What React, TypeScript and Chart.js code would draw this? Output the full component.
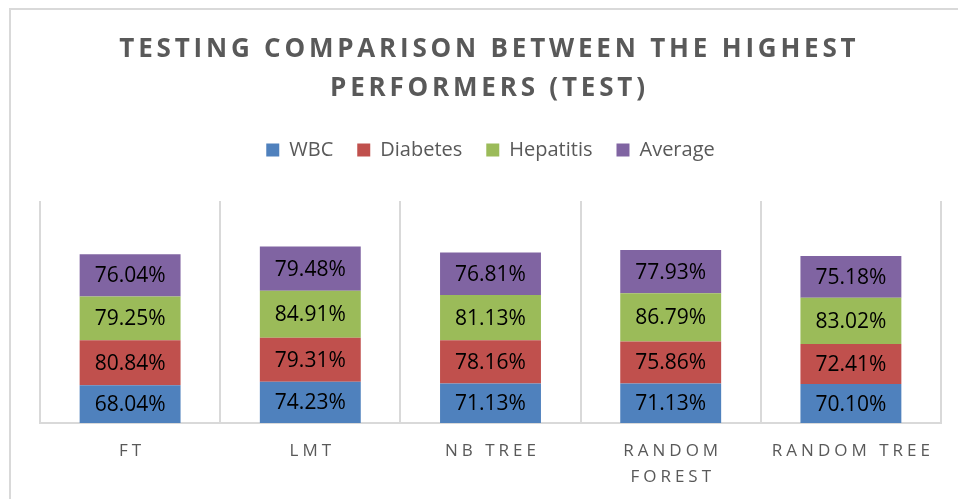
import React, { useEffect, useRef } from "react";
import { Chart, registerables } from "chart.js";

Chart.register(...registerables);

const categories: (string | string[])[] = ["FT", "LMT", "NB TREE", ["RANDOM", "FOREST"], "RANDOM TREE"];
const seriesNames = ["WBC", "Diabetes", "Hepatitis", "Average"];
const wbc = [68.04, 74.23, 71.13, 71.13, 70.1];
const diabetes = [80.84, 79.31, 78.16, 75.86, 72.41];
const hepatitis = [79.25, 84.91, 81.13, 86.79, 83.02];
const average = [76.04, 79.48, 76.81, 77.93, 75.18];
const seriesColors = ["#4F81BD", "#C0504D", "#9BBB59", "#8064A2"];
const titleLines = ["TESTING COMPARISON BETWEEN THE HIGHEST", "PERFORMERS (TEST)"];

const FONT = "'Open Sans', 'DejaVu Sans', sans-serif";
const TITLE_SPACING = 3.8;
const TICK_SPACING = 4;

const framePlugin = {
  id: "frame",
  beforeDraw(chart: any) {
    const ctx = chart.ctx;
    ctx.save();
    ctx.fillStyle = "#ffffff";
    ctx.fillRect(0, 0, chart.width, chart.height);
    ctx.strokeStyle = "#d9d9d9";
    ctx.lineWidth = 2;
    ctx.strokeRect(10, 9, 3000, 3000);
    ctx.restore();

    const tb = chart.titleBlock;
    if (tb && !tb.__spaced) {
      const orig = tb.draw.bind(tb);
      tb.draw = (area: any) => {
        ctx.save();
        (ctx as any).letterSpacing = TITLE_SPACING + "px";
        ctx.translate(TITLE_SPACING / 2 - 3, 0);
        orig(area);
        ctx.restore();
      };
      tb.__spaced = true;
    }
    const xs = chart.scales.x;
    if (xs && !xs.__spaced) {
      const origL = xs.drawLabels.bind(xs);
      xs.drawLabels = (area: any) => {
        ctx.save();
        (ctx as any).letterSpacing = TICK_SPACING + "px";
        ctx.translate(TICK_SPACING / 2, 0);
        origL(area);
        ctx.restore();
      };
      xs.__spaced = true;
    }
  },
};

const labelPlugin = {
  id: "segLabels",
  afterDatasetsDraw(chart: any) {
    const ctx = chart.ctx;
    ctx.save();
    ctx.font = `21px ${FONT}`;
    ctx.fillStyle = "#000000";
    ctx.textAlign = "center";
    ctx.textBaseline = "middle";
    chart.data.datasets.forEach((ds: any, di: number) => {
      const meta = chart.getDatasetMeta(di);
      meta.data.forEach((el: any, i: number) => {
        const v = ds.data[i] as number;
        const y = (el.y + el.base) / 2;
        ctx.fillText(v.toFixed(2) + "%", el.x, y + 1);
      });
    });
    ctx.restore();
  },
};

export default function App() {
  const ref = useRef<HTMLCanvasElement>(null);
  useEffect(() => {
    document.body.style.margin = "0";
    const canvas = ref.current!;
    const seriesData = [wbc, diabetes, hepatitis, average];
    const chart = new Chart(canvas, {
      type: "bar",
      data: {
        labels: categories,
        datasets: seriesNames.map((name, i) => ({
          label: name,
          data: seriesData[i],
          backgroundColor: seriesColors[i],
          borderWidth: 0,
          categoryPercentage: 1,
          barPercentage: 0.56,
        })),
      },
      options: {
        responsive: false,
        animation: false,
        layout: { padding: { top: 0, left: 40, right: 17, bottom: -6 } },
        scales: {
          x: {
            stacked: true,
            offset: true,
            grid: { offset: true, color: "#d9d9d9", lineWidth: 2, drawTicks: false },
            border: { color: "#d9d9d9", width: 2 },
            ticks: {
              padding: 15,
              autoSkip: false,
              maxRotation: 0,
              minRotation: 0,
              color: "#595959",
              font: { family: FONT, size: 17, lineHeight: 1.53 },
            },
          },
          y: { stacked: true, display: false, min: 0, max: 400 },
        },
        plugins: {
          tooltip: { enabled: false },
          title: {
            display: true,
            text: titleLines,
            color: "#595959",
            font: { family: FONT, size: 26, weight: "bold", lineHeight: 1.5 },
            padding: { top: 30, bottom: 8 },
          },
          subtitle: {
            display: true,
            text: "",
            weight: 500,
            font: { size: 10, lineHeight: 1 },
            padding: { top: 21, bottom: 0 },
          } as any,
          legend: {
            display: true,
            position: "top",
            labels: {
              boxWidth: 13,
              boxHeight: 13,
              padding: 24,
              color: "#595959",
              font: { family: FONT, size: 20 },
            },
          },
        },
      },
      plugins: [framePlugin, labelPlugin],
    });
    return () => chart.destroy();
  }, []);
  return (
    <div style={{ width: 958, height: 499 }}>
      <canvas ref={ref} width={958} height={499} style={{ display: "block" }} />
    </div>
  );
}
